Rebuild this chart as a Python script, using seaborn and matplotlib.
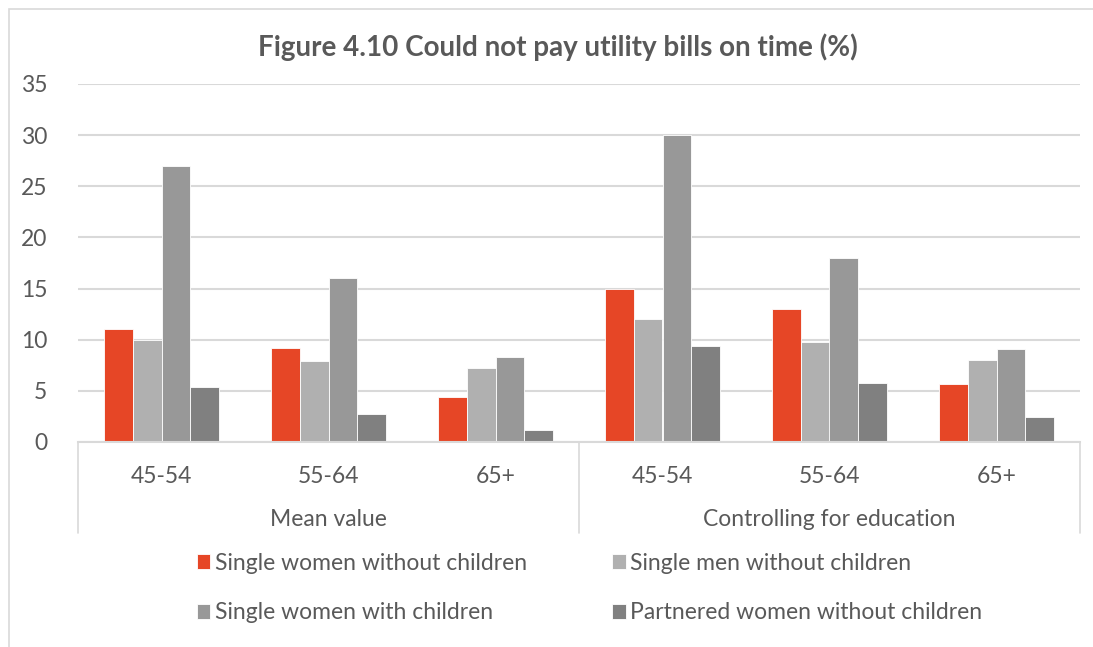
import seaborn as sns
import matplotlib.pyplot as plt
import pandas as pd
from matplotlib.patches import Rectangle

# ---- data ----
groups = ["Mean value", "Controlling for education"]
ages = ["45-54", "55-64", "65+"]
series = ["Single women without children", "Single men without children",
          "Single women with children", "Partnered women without children"]
single_women_no_kids = [11.0, 9.2, 4.4, 15.0, 13.0, 5.7]
single_men_no_kids = [10.0, 7.9, 7.2, 12.0, 9.8, 8.0]
single_women_kids = [27.0, 16.0, 8.3, 30.0, 18.0, 9.1]
partnered_women_no_kids = [5.4, 2.7, 1.2, 9.4, 5.8, 2.4]
yticks = [0, 5, 10, 15, 20, 25, 30, 35]
title = "Figure 4.10 Could not pay utility bills on time (%)"

colors = ["#E64626", "#B0B0B0", "#989898", "#808080"]
text_color = "#595959"

keys = [f"{g}|{a}" for g in groups for a in ages]
all_vals = [single_women_no_kids, single_men_no_kids, single_women_kids, partnered_women_no_kids]
rows = []
for s, vals in zip(series, all_vals):
    for k, v in zip(keys, vals):
        rows.append({"key": k, "series": s, "value": v})
df = pd.DataFrame(rows)

sns.set_style("white")
plt.rcParams['font.family'] = ['Lato', 'DejaVu Sans']
plt.rcParams['text.color'] = text_color

W, H = 1093, 647
fig = plt.figure(figsize=(W / 100, H / 100), dpi=100)
L, R, T, B = 78, 1080, 84, 442
ax = fig.add_axes([L / W, 1 - B / H, (R - L) / W, (B - T) / H])

sns.barplot(data=df, x="key", y="value", hue="series", order=keys, hue_order=series,
            palette=colors, width=0.69, saturation=1, edgecolor="white", linewidth=0.6,
            ax=ax, errorbar=None)

handles, labels = ax.get_legend_handles_labels()
ax.legend_.remove()

ax.set_ylim(0, 35)
ax.set_xlim(-0.5, 5.5)
ax.set_yticks(yticks)
ax.yaxis.grid(True, color="#D9D9D9", lw=1.5)
ax.set_axisbelow(True)
for sp in ["top", "right", "left"]:
    ax.spines[sp].set_visible(False)
ax.spines["bottom"].set_color("#D9D9D9")
ax.spines["bottom"].set_linewidth(1.5)
ax.set_xlabel("")
ax.set_ylabel("")
ax.set_xticks(range(6))
ax.set_xticklabels(ages * 2)
ax.tick_params(axis="x", length=0, pad=17, labelsize=16.5, labelcolor=text_color)
ax.tick_params(axis="y", length=0, pad=22, labelsize=16.5, labelcolor=text_color)

tr = ax.get_xaxis_transform()
for xv in [-0.5, 2.5, 5.5]:
    ax.plot([xv, xv], [0, -(533 - 442) / (B - T)], color="#D9D9D9", lw=1.2,
            transform=tr, clip_on=False)
for i, g in enumerate(groups):
    ax.text(1 + 3 * i, -(519 - 442) / (B - T), g, transform=tr, ha="center", va="center",
            fontsize=16.5, color=text_color)

fig.text(558 / W, 1 - 47 / H, title, ha="center", va="center", fontsize=20,
         fontweight="bold", color=text_color)

order = [0, 2, 1, 3]
leg = fig.legend([handles[i] for i in order], [labels[i] for i in order], ncol=2,
                 loc="center left", bbox_to_anchor=(176 / W, 1 - 588 / H), frameon=False,
                 fontsize=16.5, handlelength=0.6, handleheight=0.6, handletextpad=0.2,
                 columnspacing=3.7, labelspacing=1.25)
for t in leg.get_texts():
    t.set_color(text_color)

fig.patches.append(Rectangle((9 / W, -0.05), 1.1, 1 - 9 / H + 0.05, transform=fig.transFigure,
                             fill=False, edgecolor="#D9D9D9", lw=1.2))

fig.savefig("out.png", dpi=100)
